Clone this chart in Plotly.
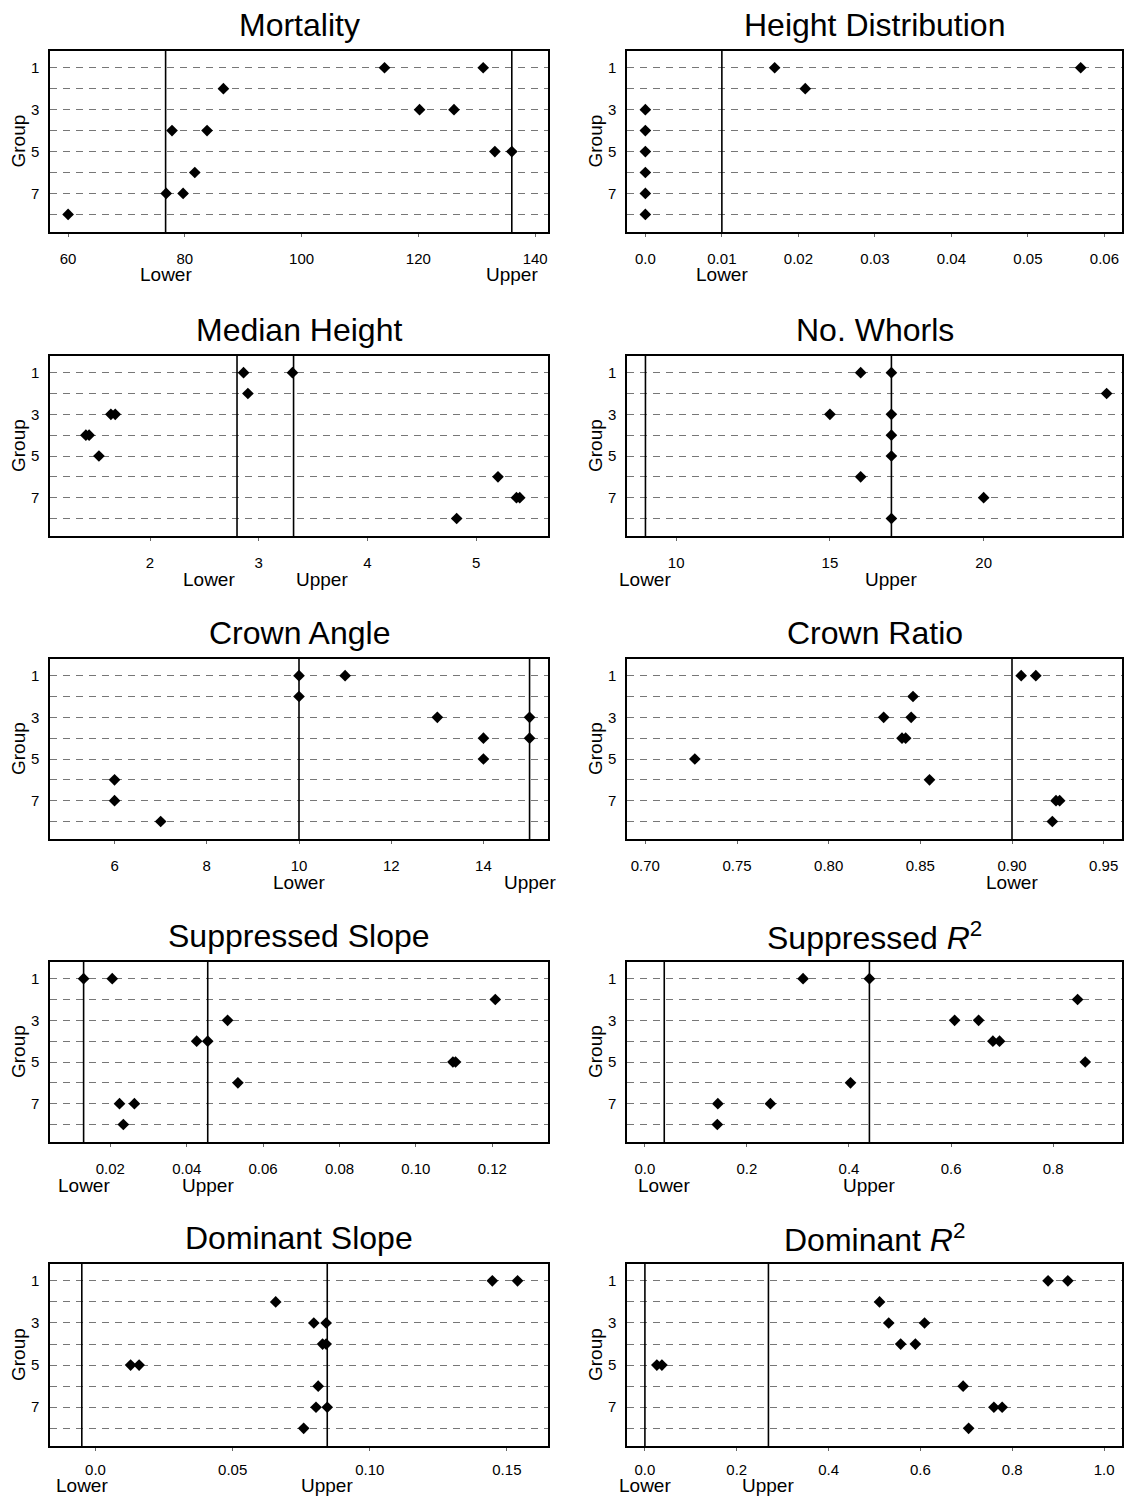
import plotly.graph_objects as go

# ---------------- data ----------------
titles = ["Mortality", "Height Distribution", "Median Height", "No. Whorls",
          "Crown Angle", "Crown Ratio", "Suppressed Slope", "Suppressed <i>R</i><sup>2</sup>",
          "Dominant Slope", "Dominant <i>R</i><sup>2</sup>"]

mortality_group = [1, 1, 2, 3, 3, 4, 4, 5, 5, 6, 7, 7, 8]
mortality_value = [114.2, 131.1, 86.6, 120.2, 126.1, 77.8, 83.8, 133.1, 136.0, 81.7, 76.8, 79.7, 60.0]

heightdist_group = [1, 1, 2, 3, 4, 5, 6, 7, 8]
heightdist_value = [0.0169, 0.0569, 0.0209, 0.0, 0.0, 0.0, 0.0, 0.0, 0.0]

medheight_group = [1, 1, 2, 3, 3, 4, 4, 5, 6, 7, 7, 8]
medheight_value = [2.86, 3.31, 2.90, 1.64, 1.68, 1.41, 1.44, 1.53, 5.20, 5.37, 5.40, 4.82]

whorls_group = [1, 1, 2, 3, 3, 4, 5, 6, 7, 8]
whorls_value = [16, 17, 24, 15, 17, 17, 17, 16, 20, 17]

crownangle_group = [1, 1, 2, 3, 3, 4, 4, 5, 6, 7, 8]
crownangle_value = [10, 11, 10, 13, 15, 14, 15, 14, 6, 6, 7]

crownratio_group = [1, 1, 2, 3, 3, 4, 4, 5, 6, 7, 7, 8]
crownratio_value = [0.905, 0.913, 0.846, 0.830, 0.845, 0.840, 0.842, 0.727, 0.855, 0.924, 0.926, 0.922]

supslope_group = [1, 1, 2, 3, 4, 4, 5, 5, 6, 7, 7, 8]
supslope_value = [0.013, 0.0205, 0.1208, 0.0507, 0.0426, 0.0455, 0.1097, 0.1104, 0.0534, 0.0224, 0.0263, 0.0234]

supr2_group = [1, 1, 2, 3, 3, 4, 4, 5, 6, 7, 7, 8]
supr2_value = [0.310, 0.440, 0.848, 0.607, 0.654, 0.682, 0.695, 0.863, 0.403, 0.143, 0.246, 0.142]

domslope_group = [1, 1, 2, 3, 3, 4, 4, 5, 5, 6, 7, 7, 8]
domslope_value = [0.1447, 0.1539, 0.0657, 0.0796, 0.0841, 0.0828, 0.0841, 0.0128, 0.0159, 0.0812, 0.0804, 0.0845, 0.0759]

domr2_group = [1, 1, 2, 3, 3, 4, 4, 5, 5, 6, 7, 7, 8]
domr2_value = [0.878, 0.921, 0.511, 0.531, 0.609, 0.557, 0.589, 0.026, 0.037, 0.693, 0.760, 0.778, 0.705]

lower_bounds = [76.7, 0.01, 2.80, 9.0, 10.0, 0.90, 0.013, 0.038, -0.005, 0.0]
upper_bounds = [136.0, None, 3.32, 17.0, 15.0, None, 0.0455, 0.44, 0.0845, 0.269]

x_ranges = [[56.9, 142.2], [-0.0024, 0.0623], [1.08, 5.66], [8.4, 24.5], [4.6, 15.4],
            [0.690, 0.960], [0.0042, 0.1346], [-0.035, 0.935], [-0.0166, 0.165], [-0.039, 1.039]]

x_tickvals = [[60, 80, 100, 120, 140],
              [0.0, 0.01, 0.02, 0.03, 0.04, 0.05, 0.06],
              [2, 3, 4, 5],
              [10, 15, 20],
              [6, 8, 10, 12, 14],
              [0.70, 0.75, 0.80, 0.85, 0.90, 0.95],
              [0.02, 0.04, 0.06, 0.08, 0.10, 0.12],
              [0.0, 0.2, 0.4, 0.6, 0.8],
              [0.0, 0.05, 0.10, 0.15],
              [0.0, 0.2, 0.4, 0.6, 0.8, 1.0]]
x_ticktext = [["60", "80", "100", "120", "140"],
              ["0.0", "0.01", "0.02", "0.03", "0.04", "0.05", "0.06"],
              ["2", "3", "4", "5"],
              ["10", "15", "20"],
              ["6", "8", "10", "12", "14"],
              ["0.70", "0.75", "0.80", "0.85", "0.90", "0.95"],
              ["0.02", "0.04", "0.06", "0.08", "0.10", "0.12"],
              ["0.0", "0.2", "0.4", "0.6", "0.8"],
              ["0.0", "0.05", "0.10", "0.15"],
              ["0.0", "0.2", "0.4", "0.6", "0.8", "1.0"]]

group_ticks = [1, 2, 3, 4, 5, 6, 7, 8]
group_ticktext = ["1", "", "3", "", "5", "", "7", ""]

series = [(mortality_group, mortality_value), (heightdist_group, heightdist_value),
          (medheight_group, medheight_value), (whorls_group, whorls_value),
          (crownangle_group, crownangle_value), (crownratio_group, crownratio_value),
          (supslope_group, supslope_value), (supr2_group, supr2_value),
          (domslope_group, domslope_value), (domr2_group, domr2_value)]

# ---------------- layout geometry ----------------
W, H = 1129, 1498
col_px = [(50, 548), (627, 1122)]
row_px = [(51, 232), (356, 536), (659, 839), (962, 1142), (1264, 1446)]
row_tick_standoff = [9, 9, 9, 9, 6]
# label anchoring for the Lower / Upper texts (Median Height labels pushed apart)
label_anchor = {2: ("right", "left")}

FONT = "Liberation Sans, Arial, sans-serif"

fig = go.Figure()
layout = dict(width=W, height=H, margin=dict(l=0, r=0, t=0, b=0), autosize=False,
              paper_bgcolor="white", plot_bgcolor="white", showlegend=False,
              font=dict(family=FONT, color="black"))
shapes = []
annotations = []

for i in range(10):
    r, c = divmod(i, 2)
    ax = "" if i == 0 else str(i + 1)
    xname, yname = "x" + ax, "y" + ax
    x0, x1 = col_px[c]
    y0, y1 = row_px[r]
    grp, val = series[i]
    fig.add_trace(go.Scatter(x=val, y=grp, mode="markers", xaxis=xname, yaxis=yname,
                             marker=dict(symbol="diamond", size=9, color="black",
                                         line=dict(width=0)),
                             cliponaxis=False, hoverinfo="x+y"))
    layout["xaxis" + ax] = dict(domain=[x0 / W, x1 / W], anchor=yname, range=x_ranges[i],
                                tickvals=x_tickvals[i], ticktext=x_ticktext[i],
                                showgrid=False, zeroline=False, showline=True, mirror=True,
                                linecolor="black", linewidth=1.5, ticks="outside", ticklen=3,
                                tickcolor="#666", ticklabelstandoff=row_tick_standoff[r],
                                tickfont=dict(size=15, family=FONT, color="black"))
    layout["yaxis" + ax] = dict(domain=[1 - y1 / H, 1 - y0 / H], anchor=xname,
                                range=[8.84, 0.2], tickvals=group_ticks, ticktext=group_ticktext,
                                showgrid=True, gridcolor="#777", gridwidth=1, griddash="7px,6px",
                                zeroline=False, showline=True, mirror=True, linecolor="black",
                                linewidth=1.5, ticks="", ticklabelstandoff=6,
                                tickfont=dict(size=15, family=FONT, color="black"))
    # title
    annotations.append(dict(text=titles[i], xref=xname + " domain", yref=yname + " domain",
                            x=0.5, y=1, yshift=26, xanchor="center", yanchor="middle",
                            showarrow=False, font=dict(size=32, family=FONT, color="black")))
    # Group label
    annotations.append(dict(text="Group", xref=xname + " domain", yref=yname + " domain",
                            x=0, y=0.5, xshift=-32, xanchor="center", yanchor="middle",
                            textangle=-90, showarrow=False,
                            font=dict(size=19, family=FONT, color="black")))
    anchors = label_anchor.get(i, ("center", "center"))
    for k, (bound, label) in enumerate(((lower_bounds[i], "Lower"), (upper_bounds[i], "Upper"))):
        if bound is None:
            continue
        shapes.append(dict(type="line", xref=xname, yref=yname + " domain",
                           x0=bound, x1=bound, y0=0, y1=1,
                           line=dict(color="black", width=1.6)))
        if r == 4:
            pos = dict(yref="paper", y=0, yshift=0, yanchor="bottom")
        else:
            pos = dict(yref=yname + " domain", y=0, yshift=-43, yanchor="middle")
        annotations.append(dict(text=label, xref=xname, x=bound, xanchor=anchors[k],
                                showarrow=False, font=dict(size=19, family=FONT, color="black"),
                                **pos))

layout["shapes"] = shapes
layout["annotations"] = annotations
fig.update_layout(**layout)
fig.write_html("out.html", config={"displayModeBar": False},
               post_script="document.body.style.margin='0';document.body.style.padding='0';")
